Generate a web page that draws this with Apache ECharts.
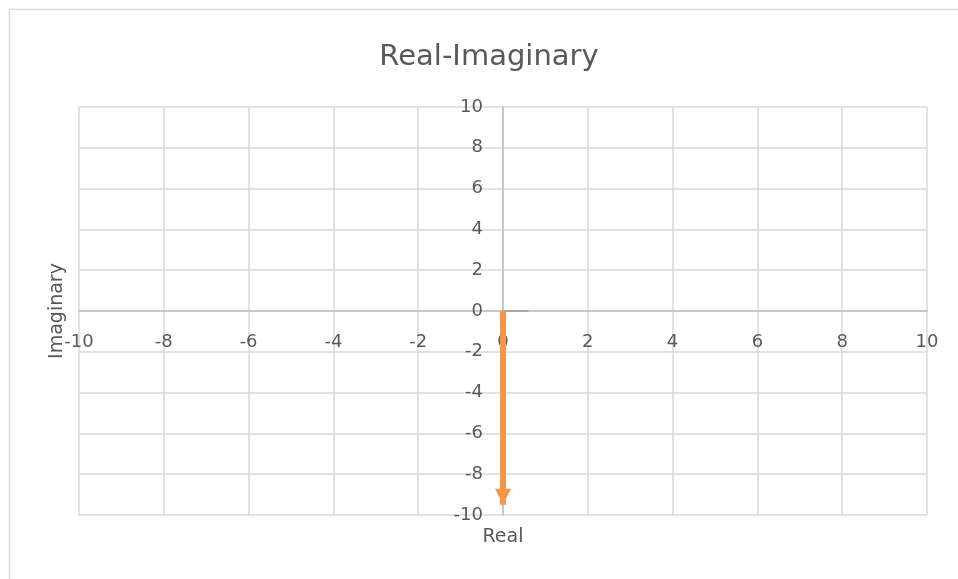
<!DOCTYPE html>
<html>
<head>
<meta charset="utf-8">
<script src="https://cdn.jsdelivr.net/npm/echarts@6/dist/echarts.min.js"></script>
<style>
    html, body { margin: 0; padding: 0; background: #fff; }
    #chart { width: 958px; height: 579px; }
</style>
</head>
<body>
<div id="chart"></div>
<script>
// 数据
const titleText = 'Real-Imaginary';
const xName = 'Real';
const yName = 'Imaginary';
const axisMin = -10;
const axisMax = 10;
const axisStep = 2;
// 向量: 起点 -> 终点
const arrowStart = [0, 0];
const arrowEnd = [0, -9.5];
// 实轴上的短灰线
const realStart = [0, 0];
const realEnd = [0.6, 0];

const fontName = 'DejaVu Sans';
let myChart = echarts.init(document.getElementById('chart'));
const labelStyle = {
    color: '#595959',
    fontSize: 18,
    fontFamily: fontName
};
const option = {
    animation: false,
    backgroundColor: '#fff',
    title: {
        text: titleText,
        left: 484,
        top: 38,
        textAlign: 'center',
        textStyle: {
            color: '#595959',
            fontSize: 29,
            fontWeight: 'normal',
            fontFamily: fontName
        }
    },
    graphic: [{
        type: 'rect',
        shape: { x: 9.5, y: 9.5, width: 1000, height: 1000 },
        style: { fill: 'none', stroke: '#d9d9d9', lineWidth: 1.5 }
    }, {
        // 坐标轴名称
        type: 'text',
        x: 503,
        y: 537,
        style: {
            text: xName, fill: '#595959', fontSize: 19, fontFamily: fontName,
            align: 'center', verticalAlign: 'middle'
        }
    }, {
        type: 'text',
        x: 57,
        y: 311,
        rotation: Math.PI / 2,
        style: {
            text: yName, fill: '#595959', fontSize: 19, fontFamily: fontName,
            align: 'center', verticalAlign: 'middle'
        }
    }],
    grid: { left: 79, right: 31, top: 107, bottom: 64 },
    xAxis: {
        type: 'value',
        min: axisMin,
        max: axisMax,
        interval: axisStep,
        axisLine: { onZero: true, lineStyle: { color: '#bfbfbf', width: 1.5 } },
        axisTick: { show: false },
        // v6 里标签不跟随 onZero，用负 margin 挪到 0 轴下面
        axisLabel: Object.assign({ margin: -182 }, labelStyle),
        splitLine: { lineStyle: { color: '#d9d9d9', width: 1.5 } }
    },
    yAxis: {
        type: 'value',
        min: axisMin,
        max: axisMax,
        interval: axisStep,
        axisLine: { onZero: true, lineStyle: { color: '#bfbfbf', width: 1.5 } },
        axisTick: { show: false },
        axisLabel: Object.assign({ margin: -404 }, labelStyle),
        splitLine: { lineStyle: { color: '#d9d9d9', width: 1.5 } }
    },
    series: [
        {
            type: 'lines',
            coordinateSystem: 'cartesian2d',
            symbol: ['none', 'none'],
            lineStyle: { color: '#a6a6a6', width: 2, opacity: 1 },
            data: [{ coords: [realStart, realEnd] }]
        },
        {
            // 用 markLine 画箭头，箭头尖端落在终点上
            type: 'line',
            data: [],
            markLine: {
                silent: true,
                symbol: ['none', 'triangle'],
                symbolSize: [16, 16],
                symbolOffset: [[0, 0], [0, 8]],
                label: { show: false },
                lineStyle: { color: '#f79646', width: 6, type: 'solid', opacity: 1 },
                data: [[{ coord: arrowStart }, { coord: arrowEnd }]]
            }
        }
    ]
};
myChart.setOption(option);
</script>
</body>
</html>
